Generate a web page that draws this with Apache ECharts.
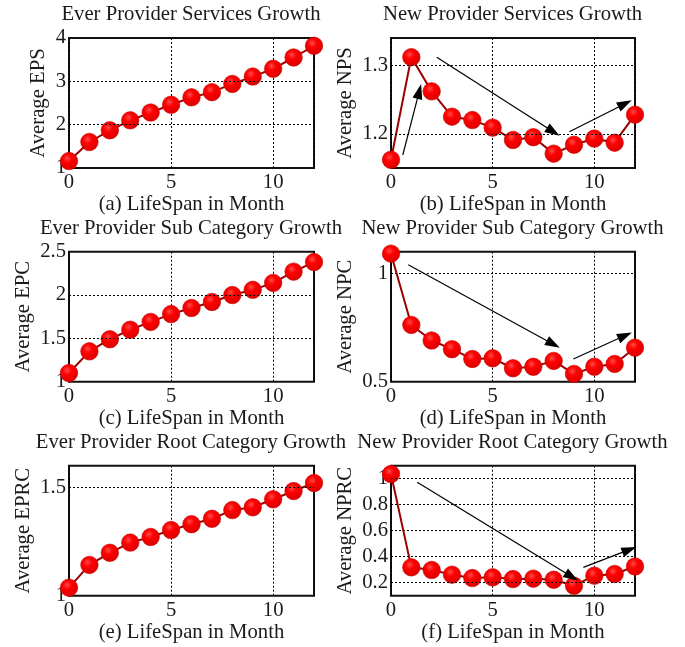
<!DOCTYPE html>
<html>
<head>
<meta charset="utf-8">
<script src="https://cdn.jsdelivr.net/npm/echarts@6/dist/echarts.min.js"></script>
<style>
  html, body { margin: 0; padding: 0; background: #ffffff; }
  #chart { width: 685px; height: 647px; }
</style>
</head>
<body>
<div id="chart"></div>
<script>
// Months of provider lifespan (x axis, shared by every panel)
const months = [0, 1, 2, 3, 4, 5, 6, 7, 8, 9, 10, 11, 12];
const monthTicks = [0, 5, 10];

// (a) Ever provider services
const epsValues = [1.16, 1.60, 1.87, 2.10, 2.28, 2.46, 2.63, 2.75, 2.94, 3.11, 3.29, 3.55, 3.82];
const epsTicks = [1, 2, 3, 4];

// (b) New provider services
const npsValues = [1.162, 1.312, 1.262, 1.225, 1.220, 1.209, 1.191, 1.195, 1.171, 1.184, 1.193, 1.187, 1.228];
const npsTicks = [1.2, 1.3];
const npsArrows = [
  [[0.58, 1.169], [1.39, 1.262]],
  [[2.25, 1.312], [7.98, 1.203]],
  [[8.77, 1.203], [11.51, 1.244]]
];

// (c) Ever provider sub categories
const epcValues = [1.10, 1.35, 1.49, 1.60, 1.69, 1.78, 1.85, 1.92, 2.00, 2.06, 2.14, 2.27, 2.38];
const epcTicks = [1, 1.5, 2, 2.5];

// (d) New provider sub categories
const npcValues = [1.091, 0.762, 0.690, 0.650, 0.605, 0.608, 0.562, 0.569, 0.596, 0.536, 0.569, 0.582, 0.657];
const npcTicks = [0.5, 1];
const npcArrows = [
  [[0.85, 1.040], [7.98, 0.673]],
  [[8.97, 0.605], [11.51, 0.713]]
];

// (e) Ever provider root categories
const eprcValues = [1.037, 1.142, 1.198, 1.245, 1.271, 1.303, 1.330, 1.355, 1.395, 1.408, 1.445, 1.483, 1.520];
const eprcTicks = [1, 1.5];

// (f) New provider root categories
const nprcValues = [1.036, 0.318, 0.298, 0.262, 0.236, 0.241, 0.228, 0.231, 0.223, 0.177, 0.254, 0.267, 0.325];
const nprcTicks = [0.2, 0.4, 0.6, 0.8, 1];
const nprcArrows = [
  [[1.29, 0.972], [8.89, 0.246]],
  [[9.46, 0.318], [11.72, 0.454]]
];

const panels = [
  { tag: 'a', title: 'Ever Provider Services Growth',       yName: 'Average EPS',  values: epsValues,  ticks: epsTicks,  range: [1, 4],      step: 1,    arrows: [] },
  { tag: 'b', title: 'New Provider Services Growth',        yName: 'Average NPS',  values: npsValues,  ticks: npsTicks,  range: [1.15, 1.34], step: 0.05, arrows: npsArrows },
  { tag: 'c', title: 'Ever Provider Sub Category Growth',   yName: 'Average EPC',  values: epcValues,  ticks: epcTicks,  range: [1, 2.5],    step: 0.5,  arrows: [] },
  { tag: 'd', title: 'New Provider Sub Category Growth',    yName: 'Average NPC',  values: npcValues,  ticks: npcTicks,  range: [0.5, 1.1],  step: 0.1,  arrows: npcArrows },
  { tag: 'e', title: 'Ever Provider Root Category Growth',  yName: 'Average EPRC', values: eprcValues, ticks: eprcTicks, range: [1, 1.6],    step: 0.1,  arrows: [] },
  { tag: 'f', title: 'New Provider Root Category Growth',   yName: 'Average NPRC', values: nprcValues, ticks: nprcTicks, range: [0.1, 1.1],  step: 0.1,  arrows: nprcArrows }
];

// Page layout
const FONT = 'Liberation Serif';
const FONT_SIZE = 20.7;
const TEXT = '#1a1a1a';
const colLeft = [69, 391];
const colWidth = [245, 244];
const rowTop = [38, 251.7, 465.7];
const plotHeight = 130;
const titleY = [15, 229, 443];
const titleX = [191, 512.5];
const yNameGap = [20, 35, 35, 35, 35, 35];

const markerFill = new echarts.graphic.RadialGradient(0.4, 0.35, 0.7, [
  { offset: 0, color: '#ff4a4a' },
  { offset: 0.35, color: '#ff0000' },
  { offset: 1, color: '#d80000' }
]);

const dotted = { color: '#000', width: 1, type: [2, 2] };

const grid = [], xAxis = [], yAxis = [], series = [], graphic = [];

panels.forEach((p, i) => {
  const col = i % 2, row = Math.floor(i / 2);
  grid.push({
    left: colLeft[col], top: rowTop[row], width: colWidth[col], height: plotHeight,
    show: true, borderColor: '#111', borderWidth: 2, backgroundColor: 'transparent'
  });
  xAxis.push({
    type: 'value', gridIndex: i, min: 0, max: 12, interval: 5,
    axisLine: { show: false }, axisTick: { show: false },
    axisLabel: {
      margin: 4, color: TEXT, fontFamily: FONT, fontSize: FONT_SIZE,
      formatter: v => (monthTicks.includes(v) ? String(v) : '')
    },
    splitLine: { show: true, lineStyle: dotted },
    name: '(' + p.tag + ') LifeSpan in Month', nameLocation: 'middle', nameGap: 25,
    nameTextStyle: { color: TEXT, fontFamily: FONT, fontSize: FONT_SIZE }
  });
  yAxis.push({
    type: 'value', gridIndex: i, min: p.range[0], max: p.range[1], interval: p.step,
    axisLine: { show: false }, axisTick: { show: false }, splitLine: { show: false },
    axisLabel: {
      margin: 3, color: TEXT, fontFamily: FONT, fontSize: FONT_SIZE,
      showMaxLabel: true, showMinLabel: true,
      formatter: v => {
        const t = p.ticks.find(t => Math.abs(t - v) < 1e-9);
        return t === undefined ? '' : String(t);
      }
    },
    name: p.yName, nameLocation: 'middle', nameGap: yNameGap[i],
    nameTextStyle: { color: TEXT, fontFamily: FONT, fontSize: FONT_SIZE }
  });

  // horizontal dotted grid lines at the labelled y values inside the plot
  series.push({
    type: 'line', xAxisIndex: i, yAxisIndex: i, data: [], silent: true, z: 1,
    markLine: {
      silent: true, symbol: ['none', 'none'], label: { show: false },
      lineStyle: dotted, animation: false,
      data: p.ticks.filter(t => t > p.range[0] + 1e-9 && t < p.range[1] - 1e-9).map(t => ({ yAxis: t }))
    }
  });

  // trend arrows
  if (p.arrows.length) {
    series.push({
      type: 'line', xAxisIndex: i, yAxisIndex: i, data: [], silent: true, z: 2,
      markLine: {
        silent: true, symbol: ['none', 'triangle'], symbolSize: [10, 15],
        label: { show: false }, animation: false,
        lineStyle: { color: '#000', width: 1.2, type: 'solid' },
        data: p.arrows.map(([a, b]) => [{ coord: a }, { coord: b }])
      }
    });
  }

  // the measured series
  series.push({
    type: 'line', xAxisIndex: i, yAxisIndex: i, z: 3, clip: false,
    data: months.map((m, k) => [m, p.values[k]]),
    symbol: 'circle', symbolSize: 17.5, showAllSymbol: true,
    lineStyle: { color: '#9a0000', width: 2 },
    itemStyle: { color: markerFill, borderColor: '#c80000', borderWidth: 0.6 }
  });

  graphic.push({
    type: 'text', x: titleX[col], y: titleY[row], silent: true,
    style: {
      text: p.title, fill: TEXT, font: FONT_SIZE + 'px "' + FONT + '"',
      textAlign: 'center', textVerticalAlign: 'middle', align: 'center', verticalAlign: 'middle'
    }
  });
});

const chart = echarts.init(document.getElementById('chart'), null, { renderer: 'canvas' });
chart.setOption({
  animation: false,
  backgroundColor: '#ffffff',
  grid, xAxis, yAxis, series, graphic
});
</script>
</body>
</html>
